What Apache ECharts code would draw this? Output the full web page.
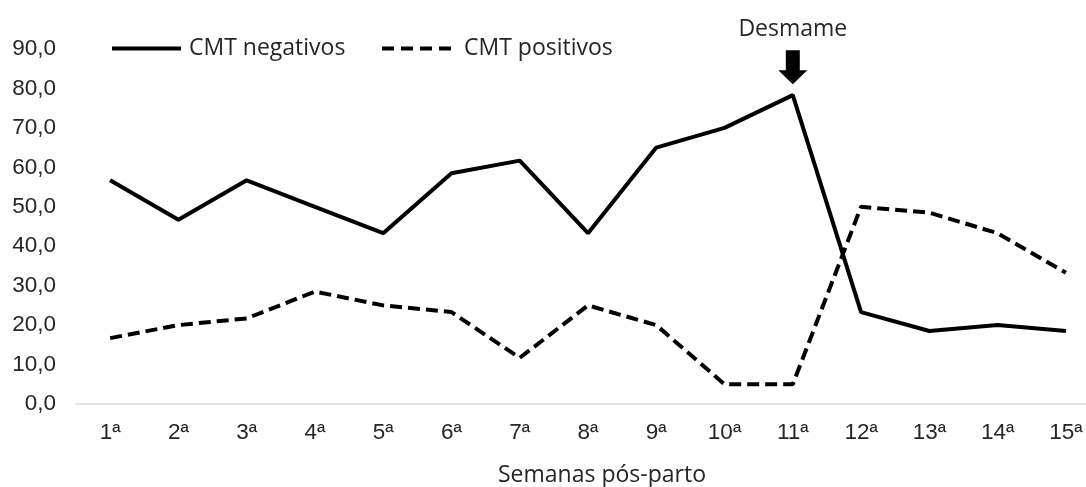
<!DOCTYPE html>
<html>
<head>
<meta charset="utf-8">
<script src="https://cdn.jsdelivr.net/npm/echarts@6/dist/echarts.min.js"></script>
<style>
html,body{margin:0;padding:0;background:#fff;}
#c{width:1086px;height:487px;}
</style>
</head>
<body>
<div id="c"></div>
<script>
const categories = ['1ª','2ª','3ª','4ª','5ª','6ª','7ª','8ª','9ª','10ª','11ª','12ª','13ª','14ª','15ª'];
const cmtNegativos = [56.7, 46.7, 56.7, 50.0, 43.3, 58.5, 61.7, 43.3, 65.0, 70.0, 78.3, 23.3, 18.5, 20.0, 18.5];
const cmtPositivos = [16.7, 20.0, 21.7, 28.5, 25.0, 23.3, 11.7, 25.0, 20.0, 5.0, 5.0, 50.0, 48.5, 43.3, 33.3];
const seriesNames = ['CMT negativos', 'CMT positivos'];
const yMin = 0, yMax = 90, yInterval = 10;
const weaningCategory = '11ª';
const weaningLabel = 'Desmame';
const xAxisTitle = 'Semanas pós-parto';

const chart = echarts.init(document.getElementById('c'));
const weaningValue = cmtNegativos[categories.indexOf(weaningCategory)];
const textColor = '#262626';
const sansLabel = '"Open Sans", "Noto Sans", sans-serif';
const arial = '"Liberation Sans", Arial, sans-serif';
const solidIcon = 'path://M0,0h69v4h-69z';
const dashIcon = 'path://M0,0h12v4h-12z M19,0h12v4h-12z M38,0h12v4h-12z M57,0h12v4h-12z';

chart.setOption({
  animation: false,
  backgroundColor: '#fff',
  grid: { left: 76, right: -14, top: 49, bottom: 83, containLabel: false, outerBoundsMode: 'none' },
  legend: [
    {
      data: [{ name: seriesNames[0], icon: solidIcon }], left: 107, top: 32, itemWidth: 69, itemHeight: 4,
      itemStyle: { color: '#000' },
      textStyle: { fontFamily: sansLabel, fontSize: 23, color: textColor, padding: [0,0,0,3] }
    },
    {
      data: [{ name: seriesNames[1], icon: dashIcon }], left: 377, top: 32, itemWidth: 69, itemHeight: 4,
      itemStyle: { color: '#000' },
      textStyle: { fontFamily: sansLabel, fontSize: 23, color: textColor, padding: [0,0,0,8] }
    }
  ],
  xAxis: {
    type: 'category',
    data: categories,
    boundaryGap: true,
    axisLine: { lineStyle: { color: '#d9d9d9', width: 1.5 } },
    axisTick: { show: false },
    axisLabel: { fontFamily: arial, fontSize: 22.5, color: textColor, margin: 17 },
    name: xAxisTitle,
    nameLocation: 'middle',
    nameGap: 60,
    nameTextStyle: { fontFamily: sansLabel, fontSize: 23, color: textColor, padding: [0,0,0,28] }
  },
  yAxis: {
    type: 'value',
    min: yMin, max: yMax, interval: yInterval,
    axisLine: { show: false },
    axisTick: { show: false },
    splitLine: { show: false },
    axisLabel: {
      fontFamily: arial, fontSize: 22.5, color: textColor, margin: 20,
      formatter: v => v.toFixed(1).replace('.', ',')
    }
  },
  series: [
    {
      name: seriesNames[0], type: 'line', data: cmtNegativos,
      symbol: 'none',
      lineStyle: { color: '#000', width: 4, type: 'solid' },
      itemStyle: { color: '#000' },
      markPoint: {
        symbol: 'path://M7.5,0 L21.5,0 L21.5,20 L29,20 L14.5,34 L0,20 L7.5,20 Z',
        symbolSize: [29, 34],
        symbolOffset: [0, -28],
        itemStyle: { color: '#000' },
        label: {
          show: true, position: 'top', distance: 9,
          formatter: weaningLabel,
          fontFamily: sansLabel, fontSize: 23, color: textColor
        },
        data: [{ coord: [weaningCategory, weaningValue] }]
      }
    },
    {
      name: seriesNames[1], type: 'line', data: cmtPositivos,
      symbol: 'none',
      lineStyle: { color: '#000', width: 4, type: [12, 6], cap: 'butt' },
      itemStyle: { color: '#000' }
    }
  ]
});
</script>
</body>
</html>
